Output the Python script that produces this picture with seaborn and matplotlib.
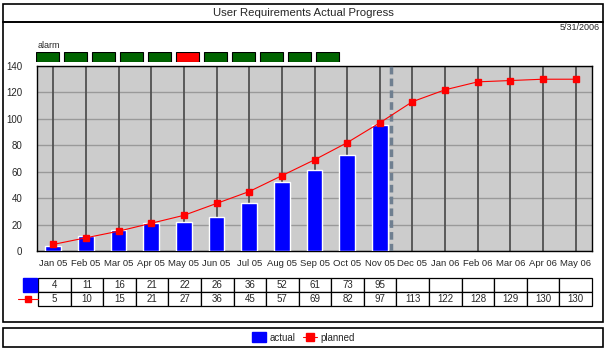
import numpy as np
import pandas as pd
import seaborn as sns
import matplotlib.pyplot as plt
from matplotlib.patches import Rectangle
from matplotlib.lines import Line2D

sns.set_style("white")
plt.rcParams['font.family'] = ['Liberation Sans', 'DejaVu Sans']

# data
months = ["Jan 05", "Feb 05", "Mar 05", "Apr 05", "May 05", "Jun 05", "Jul 05", "Aug 05",
          "Sep 05", "Oct 05", "Nov 05", "Dec 05", "Jan 06", "Feb 06", "Mar 06", "Apr 06", "May 06"]
actual = [4, 11, 16, 21, 22, 26, 36, 52, 61, 73, 95]
planned = [5, 10, 15, 21, 27, 36, 45, 57, 69, 82, 97, 113, 122, 128, 129, 130, 130]
alarm = ["ok", "ok", "ok", "ok", "ok", "alarm", "ok", "ok", "ok", "ok", "ok"]
today_pos = 10.35
title = "User Requirements Actual Progress"
date_text = "5/31/2006"

W, H = 607, 352
fig = plt.figure(figsize=(W / 100, H / 100), dpi=100)
fig.patch.set_facecolor("white")


def px(x0, y0, x1, y1):
    # pixel box (top-left origin) -> figure fraction rect
    return [x0 / W, 1 - y1 / H, (x1 - x0) / W, (y1 - y0) / H]


# outer frames
for (x0, y0, x1, y1) in [(3, 4, 603, 22), (3, 22, 603, 322), (3, 328, 603, 347)]:
    r = px(x0, y0, x1, y1)
    fig.add_artist(Rectangle((r[0], r[1]), r[2], r[3], transform=fig.transFigure,
                             fill=False, edgecolor="black", lw=1.2))
fig.text(0.5, 1 - 13 / H, title, ha="center", va="center", fontsize=8.2)
fig.text(600 / W, 1 - 28 / H, date_text, ha="right", va="center", fontsize=6.5)

# main chart
ax = fig.add_axes(px(37, 66, 592, 251))
ax.set_facecolor("#cccccc")
df = pd.DataFrame({"month": months,
                   "actual": actual + [np.nan] * (len(months) - len(actual)),
                   "planned": planned})
sns.barplot(data=df, x="month", y="actual", order=months, color="#0000ff",
            saturation=1, width=0.48, ax=ax, zorder=3)
pos = np.arange(len(months))
ax.plot(pos, df["planned"], color="red", lw=0.8, marker="s", markersize=5,
        markeredgecolor="red", zorder=5)
ax.axvline(today_pos, color="#6f7f90", lw=2.5, ls=(0, (2.2, 1.2)), zorder=4)

ax.set_xlim(-0.5, len(months) - 0.5)
ax.set_ylim(0, 140)
ax.set_yticks(range(0, 141, 20))
ax.yaxis.grid(True, color="#999999", lw=1, zorder=1)
for p in pos:
    ax.axvline(p, color="#505050", lw=1.3, zorder=2)
ax.set_axisbelow(True)
ax.set_xlabel("")
ax.set_ylabel("")
ax.tick_params(axis="y", direction="inout", length=9, width=1.6, color="black",
               labelsize=7, pad=6)
ax.tick_params(axis="x", direction="out", length=4, width=1.2, color="#404040",
               labelsize=6.8, pad=2)
for s in ax.spines.values():
    s.set_color("black")
    s.set_linewidth(1)

# alarm strip
aax = fig.add_axes(px(36, 52, 36 + 28 * len(alarm), 62))
aax.bar(np.arange(len(alarm)), 1, width=0.82,
        color=["#ff0000" if a == "alarm" else "#006400" for a in alarm],
        edgecolor="black", lw=0.8)
aax.set_xlim(-0.41, len(alarm) - 0.41)
aax.set_ylim(0, 1)
aax.axis("off")
fig.text(38 / W, 1 - 46 / H, "alarm", ha="left", va="center", fontsize=6.5)

# data table under the axis
tax = fig.add_axes(px(38, 278, 592, 306))
tax.axis("off")
cells = [[str(v) for v in actual] + [""] * (len(months) - len(actual)),
         [str(v) for v in planned]]
tbl = tax.table(cellText=cells, bbox=[0, 0, 1, 1], cellLoc="center")
tbl.auto_set_font_size(False)
tbl.set_fontsize(7)
for c in tbl.get_celld().values():
    c.set_edgecolor("black")
    c.set_linewidth(0.9)
tax.add_patch(Rectangle((-0.027, 0.5), 0.025, 0.5, transform=tax.transAxes,
                        color="#0000ff", clip_on=False))
tax.add_line(Line2D([-0.036, -0.018, 0], [0.25, 0.25, 0.25], transform=tax.transAxes,
                    color="red", lw=0.8, marker="s", markersize=5, markevery=[1],
                    clip_on=False))

# legend
handles = [Rectangle((0, 0), 1, 1, color="#0000ff"),
           Line2D([0], [0], color="red", lw=0.8, marker="s", markersize=6)]
fig.legend(handles, ["actual", "planned"], loc="center", ncol=2, frameon=False,
           bbox_to_anchor=(0.5, 1 - 337.5 / H), fontsize=7, handlelength=1.4,
           handleheight=1.2, handletextpad=0.4, columnspacing=0.8)

fig.savefig("out.png", dpi=100)
